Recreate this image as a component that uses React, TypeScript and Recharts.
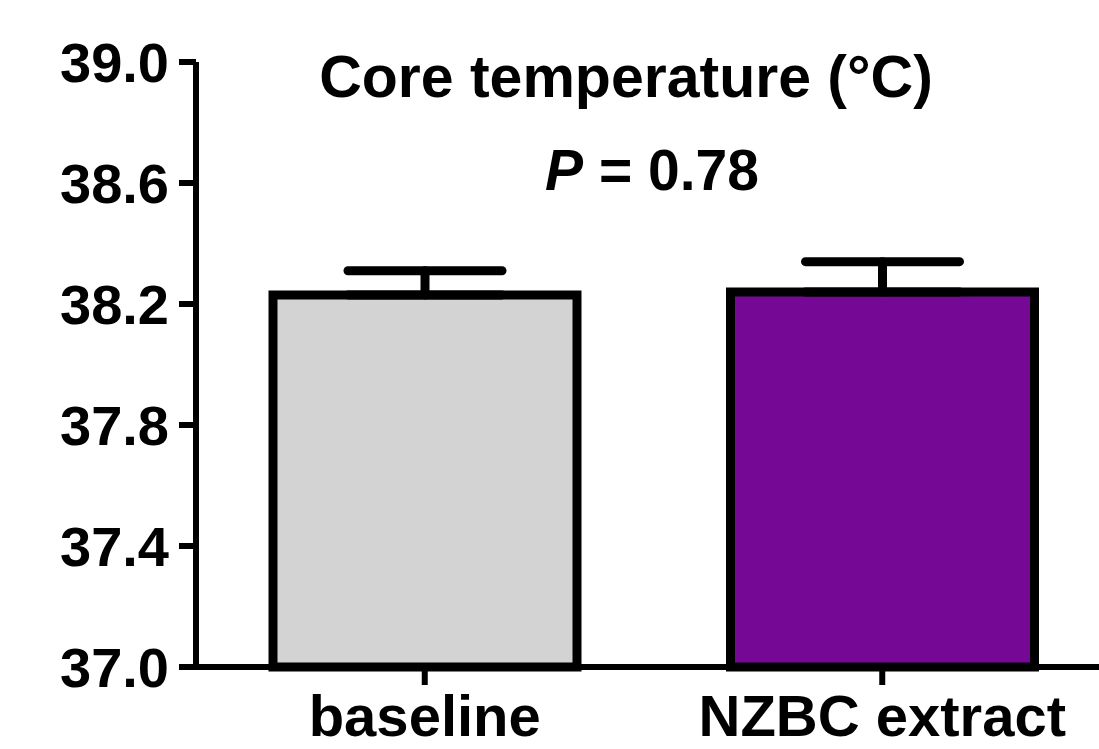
import { BarChart, Bar, Cell, ErrorBar, XAxis, YAxis } from 'recharts';

const categories = ['baseline', 'NZBC extract'];
const means = [38.23, 38.24];
const sems = [0.08, 0.1];
const yTicks = [37.0, 37.4, 37.8, 38.2, 38.6, 39.0];
const fills = ['#d3d3d3', '#760896'];

const data = categories.map((name, i) => ({
  name,
  value: means[i],
  err: [0, sems[i]],
}));

const font = '"Liberation Sans", Arial, sans-serif';

const App = () => {
  return (
    <div style={{ position: 'absolute', left: 0, top: 0, width: 1099, height: 749, overflow: 'hidden', background: '#fff' }}>
      <BarChart width={1111} height={749} data={data} margin={{ top: 62, right: 0, bottom: 0, left: 0 }}>
        <XAxis
          dataKey="name"
          height={82}
          axisLine={{ stroke: '#000', strokeWidth: 6 }}
          tickLine={{ stroke: '#000', strokeWidth: 6 }}
          tickSize={18}
          tickMargin={10}
          tick={{ fill: '#000', fontSize: 58, fontWeight: 'bold', fontFamily: font }}
        />
        <YAxis
          width={196}
          domain={[37, 39]}
          ticks={yTicks}
          interval={0}
          tickFormatter={v => Number(v).toFixed(1)}
          axisLine={{ stroke: '#000', strokeWidth: 6 }}
          tickLine={{ stroke: '#000', strokeWidth: 6 }}
          tickSize={17}
          tickMargin={10}
          tick={{ fill: '#000', fontSize: 56, fontWeight: 'bold', fontFamily: font }}
        />
        <Bar dataKey="value" barSize={304} stroke="#000" strokeWidth={9} isAnimationActive={false}>
          {data.map((d, i) => (
            <Cell key={d.name} fill={fills[i]} />
          ))}
          <ErrorBar dataKey="err" width={77} stroke="#000" strokeWidth={9} strokeLinecap="round" />
        </Bar>
      </BarChart>
      <svg width={1099} height={749} style={{ position: 'absolute', left: 0, top: 0, pointerEvents: 'none' }}>
        <text x={626} y={97} textAnchor="middle" fontSize={59} fontWeight="bold" fontFamily={font} fill="#000">
          Core temperature (°C)
        </text>
        <text x={652} y={190} textAnchor="middle" fontSize={57} fontWeight="bold" fontFamily={font} fill="#000">
          <tspan fontStyle="italic">P</tspan> = 0.78
        </text>
      </svg>
    </div>
  );
};

export default App;
